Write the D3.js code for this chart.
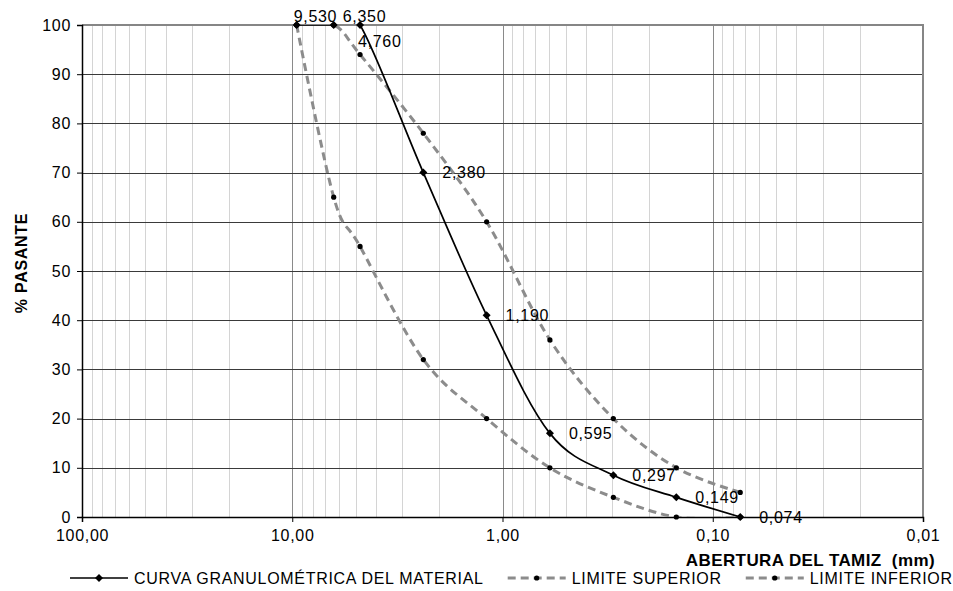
<!DOCTYPE html>
<html>
<head>
<meta charset="utf-8">
<script src="https://cdn.jsdelivr.net/npm/d3@7/dist/d3.min.js"></script>
<style>
  body { margin: 0; background: #fff; }
  svg { display: block; font-family: "Liberation Sans", Arial, sans-serif; }
  svg text { letter-spacing: 0.7px; }
</style>
</head>
<body>
<svg id="chart" width="953" height="591"></svg>
<script>
// Sieve openings (mm) and passing percentages
const sieves = [9.53, 6.35, 4.76, 2.38, 1.19, 0.595, 0.297, 0.149, 0.074];
const sieveLabels = ["9,530", "6,350", "4,760", "2,380", "1,190", "0,595", "0,297", "0,149", "0,074"];
const material = [100, 100, 100, 70, 41, 17, 8.5, 4, 0];
const upperLimit = [100, 100, 94, 78, 60, 36, 20, 10, 5];
const lowerLimit = [100, 65, 55, 32, 20, 10, 4, 0, 0];
const xTicks = [100, 10, 1, 0.1, 0.01];
const xTickLabels = ["100,00", "10,00", "1,00", "0,10", "0,01"];
const yTicks = [0, 10, 20, 30, 40, 50, 60, 70, 80, 90, 100];
const seriesNames = ["CURVA GRANULOMÉTRICA DEL MATERIAL", "LIMITE SUPERIOR", "LIMITE INFERIOR"];

const svg = d3.select("#chart");
const margin = { left: 82, top: 25, right: 30, bottom: 74 };
const W = 953, H = 591;
const x = d3.scaleLog().domain([100, 0.01]).range([margin.left, W - margin.right]);
const y = d3.scaleLinear().domain([0, 100]).range([H - margin.bottom, margin.top]);

// series lines are clipped to the plot area
svg.append("defs").append("clipPath").attr("id", "plot-clip")
  .append("rect")
  .attr("x", x(100)).attr("y", y(100))
  .attr("width", x(0.01) - x(100)).attr("height", y(0) - y(100));

const g = svg.append("g");

// minor vertical gridlines (2..9 of each decade)
const minor = [];
[10, 1, 0.1, 0.01].forEach(d => { for (let k = 2; k <= 9; k++) minor.push(d * k); });
g.selectAll(".minor").data(minor).enter().append("line")
  .attr("x1", d => Math.round(x(d)) + 0.5).attr("x2", d => Math.round(x(d)) + 0.5)
  .attr("y1", y(0)).attr("y2", y(100))
  .attr("stroke", "#d4d4d4").attr("stroke-width", 1);

// decade gridlines
g.selectAll(".major").data([10, 1, 0.1]).enter().append("line")
  .attr("x1", d => Math.round(x(d)) + 0.5).attr("x2", d => Math.round(x(d)) + 0.5)
  .attr("y1", y(0)).attr("y2", y(100))
  .attr("stroke", "#8a8a8a").attr("stroke-width", 1);

// horizontal gridlines
g.selectAll(".hgrid").data(yTicks.filter(v => v > 0 && v < 100)).enter().append("line")
  .attr("x1", x(100)).attr("x2", x(0.01))
  .attr("y1", d => Math.round(y(d)) + 0.5).attr("y2", d => Math.round(y(d)) + 0.5)
  .attr("stroke", "#3a3a3a").attr("stroke-width", 1);

// plot border (top and right)
g.append("path")
  .attr("d", `M${x(100)},${y(100)}H${x(0.01)}V${y(0)}`)
  .attr("fill", "none").attr("stroke", "#868686").attr("stroke-width", 2);

// axes
const yAxis = d3.axisLeft(y).tickValues(yTicks).tickSize(5).tickPadding(6).tickFormat(d3.format("d"));
const gy = svg.append("g").attr("transform", `translate(${x(100)},0)`).call(yAxis);
gy.select(".domain").attr("stroke", "#000").attr("stroke-width", 1.5);
gy.selectAll(".tick line").attr("stroke", "#000");
gy.selectAll("text").attr("font-size", 16).attr("fill", "#000").attr("font-family", "Liberation Sans, Arial, sans-serif");

const xAxis = d3.axisBottom(x).tickValues(xTicks).tickSize(5).tickPadding(8)
  .tickFormat((d, i) => xTickLabels[i]);
const gx = svg.append("g").attr("transform", `translate(0,${y(0)})`).call(xAxis);
gx.select(".domain").attr("stroke", "#000").attr("stroke-width", 1.5);
gx.selectAll(".tick line").attr("stroke", "#000");
gx.selectAll("text").attr("font-size", 16).attr("fill", "#000").attr("font-family", "Liberation Sans, Arial, sans-serif");

// axis titles
svg.append("text")
  .attr("transform", `translate(27,${(y(0) + y(100)) / 2 - 8}) rotate(-90)`)
  .attr("text-anchor", "middle")
  .attr("font-size", 16).attr("font-weight", "bold")
  .text("% PASANTE");
svg.append("text")
  .attr("x", 935).attr("y", 566)
  .attr("text-anchor", "end")
  .attr("font-size", 17).attr("font-weight", "bold")
  .attr("xml:space", "preserve")
  .style("letter-spacing", "0.4px")
  .text("ABERTURA DEL TAMIZ  (mm)");

// smoothed series
const line = d3.line()
  .x(d => x(d[0])).y(d => y(d[1]))
  .curve(d3.curveCatmullRom.alpha(0));

const pair = vals => sieves.map((s, i) => [s, vals[i]]);
const limits = [upperLimit, lowerLimit];
const plot = svg.append("g").attr("clip-path", "url(#plot-clip)");

limits.forEach(vals => {
  plot.append("path").attr("d", line(pair(vals)))
    .attr("fill", "none").attr("stroke", "#8c8c8c").attr("stroke-width", 3)
    .attr("stroke-dasharray", "8,5");
});
limits.forEach(vals => {
  svg.selectAll(null).data(pair(vals)).enter().append("circle")
    .attr("cx", d => x(d[0])).attr("cy", d => y(d[1])).attr("r", 2.6).attr("fill", "#000");
});

plot.append("path").attr("d", line(pair(material)))
  .attr("fill", "none").attr("stroke", "#000").attr("stroke-width", 1.7);

// square diamond marker
const diamond = d3.symbol().type(d3.symbolSquare).size(32);
svg.selectAll(null).data(pair(material)).enter().append("path")
  .attr("d", diamond)
  .attr("transform", d => `translate(${x(d[0])},${y(d[1])}) rotate(45)`)
  .attr("fill", "#000");

// sieve labels beside the material curve
const labelShift = { 0: [-3, -9], 1: [9, -9], 2: [-2, 16] };
svg.selectAll(null).data(pair(material)).enter().append("text")
  .attr("x", (d, i) => x(d[0]) + (labelShift[i] ? labelShift[i][0] : 19))
  .attr("y", (d, i) => y(d[1]) + (labelShift[i] ? labelShift[i][1] : 0))
  .attr("dy", "0.36em")
  .attr("font-size", 16).attr("fill", "#000")
  .text((d, i) => sieveLabels[i]);

// legend
const legY = 578;
const leg = svg.append("g");
let cx = 70;
function legendEntry(name, dashed) {
  const x0 = cx, x1 = cx + 58;
  leg.append("line").attr("x1", x0).attr("x2", x1).attr("y1", legY).attr("y2", legY)
    .attr("stroke", dashed ? "#8c8c8c" : "#000")
    .attr("stroke-width", dashed ? 3 : 1.7)
    .attr("stroke-dasharray", dashed ? "8,5" : null);
  if (dashed) {
    leg.append("circle").attr("cx", (x0 + x1) / 2).attr("cy", legY).attr("r", 2.6).attr("fill", "#000");
  } else {
    leg.append("path").attr("d", diamond)
      .attr("transform", `translate(${(x0 + x1) / 2},${legY}) rotate(45)`).attr("fill", "#000");
  }
  const t = leg.append("text").attr("x", x1 + 6).attr("y", legY).attr("dy", "0.36em")
    .attr("font-size", 16).attr("fill", "#000").text(name);
  cx = x1 + 6 + t.node().getComputedTextLength() + 24;
}
legendEntry(seriesNames[0], false);
legendEntry(seriesNames[1], true);
legendEntry(seriesNames[2], true);
</script>
</body>
</html>
